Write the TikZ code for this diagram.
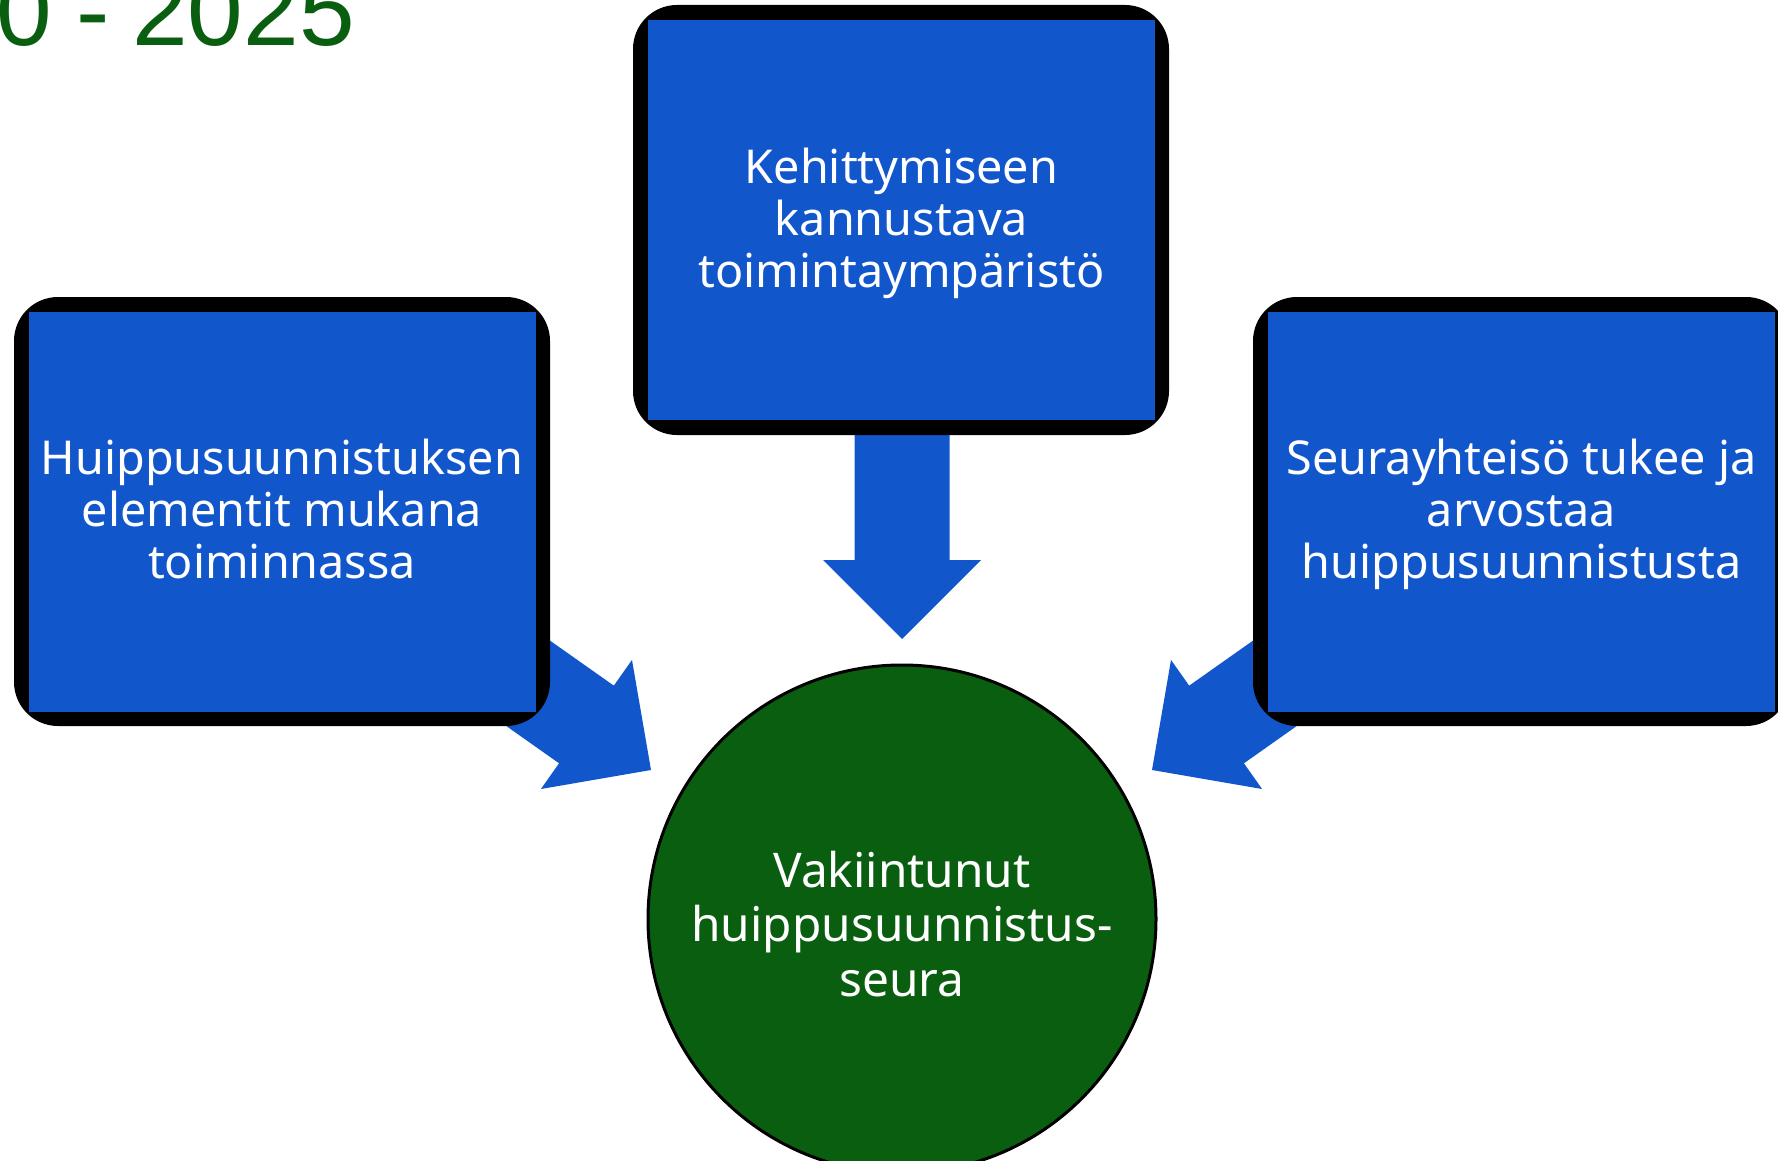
\documentclass[tikz,border=0pt]{standalone}
\usepackage{fontspec}
\setmainfont{Noto Sans}
\newfontfamily\titlefont{Liberation Sans}
\definecolor{boxblue}{HTML}{1256CC}
\definecolor{circgreen}{HTML}{0A5E10}
\begin{document}
\begin{tikzpicture}[x=0.5pt,y=-0.5pt,
  outerbox/.style={fill=black, rounded corners=22pt, inner sep=0pt},
  innerbox/.style={fill=boxblue, inner sep=0pt,
    minimum width=253.5pt, minimum height=200pt},
  boxtext/.style={text=white, inner sep=0pt, align=center,
    font=\fontsize{23.35}{26}\selectfont},
  blockarrow/.style={fill=boxblue, draw=none},
  goalstyle/.style={circle, draw=black, line width=1.5pt, fill=circgreen,
    minimum size=254pt, inner sep=0pt},
  goaltextstyle/.style={text=white, inner sep=0pt, align=center,
    font=\fontsize{23.9}{27.25}\selectfont},
  titlestyle/.style={anchor=base west, inner sep=0pt, text=circgreen,
    font=\titlefont\fontsize{50}{60}\selectfont}
]
\useasboundingbox (0,0) rectangle (1778,1161);

% title
\node[titlestyle] (title) at (-4,46) {0\hspace{12pt}-\hspace{11.5pt}2025};

% arrow tips (named)
\coordinate (tipT) at (902,639);
\coordinate (tipL) at (651,770);
\coordinate (tipR) at (1152,770);

% block arrows (drawn under the boxes)
\path[blockarrow, shift={(tipT)}, rotate=-90]
  (0,0) -- (-79,-79) -- (-79,-47.5) -- (-260,-47.5) -- (-260,47.5) -- (-79,47.5) -- (-79,79) -- cycle;
\path[blockarrow, shift={(tipL)}, rotate=-35.2]
  (0,0) -- (-79,-79) -- (-79,-47.5) -- (-230,-47.5) -- (-230,47.5) -- (-79,47.5) -- (-79,79) -- cycle;
\path[blockarrow, shift={(tipR)}, rotate=-144.8]
  (0,0) -- (-79,-79) -- (-79,-47.5) -- (-230,-47.5) -- (-230,47.5) -- (-79,47.5) -- (-79,79) -- cycle;

% boxes
\node[outerbox, minimum width=268pt, minimum height=215pt] (topO) at (901,220) {};
\node[innerbox] (top) at (901.5,220) {};
\node[boxtext] (topT) at (901.5,223) {Kehittymiseen\\kannustava\\toimintaympäristö};

\node[outerbox, minimum width=268pt, minimum height=214.5pt] (leftO) at (282,511.5) {};
\node[innerbox] (left) at (282,512) {};
\node[boxtext] (leftT) at (282,509) {Huippusuunnistuksen\\elementit mukana\\toiminnassa};

\node[outerbox, minimum width=268.5pt, minimum height=214.5pt] (rightO) at (1521.5,511.5) {};
\node[innerbox] (right) at (1521.5,511.5) {};
\node[boxtext] (rightT) at (1521.5,514) {Seurayhteisö tukee ja\\arvostaa\\huippusuunnistusta};

% goal circle
\node[goalstyle] (goal) at (902,919) {};
\node[goaltextstyle] (goalT) at (902,924) {Vakiintunut\\huippusuunnistus-\\seura};
\end{tikzpicture}
\end{document}
